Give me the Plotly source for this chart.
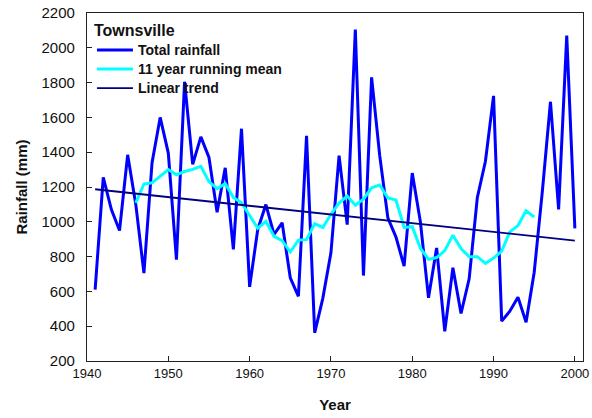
import pandas as pd
import plotly.graph_objects as go

# Annual rainfall at Townsville, 1941-2000 (mm)
years = list(range(1941, 2001))
rainfall = [
    610, 1255, 1070, 950, 1385, 1100, 705, 1340, 1600, 1395,
    783, 1805, 1330, 1488, 1370, 1055, 1310, 841, 1535, 626,
    956, 1099, 927, 994, 678, 572, 1494, 362, 560, 822,
    1380, 984, 2105, 691, 1830, 1380, 1023, 912, 745, 1280,
    1000, 563, 850, 371, 736, 473, 672, 1138, 1348, 1724,
    429, 486, 567, 423, 710, 1175, 1690, 1071, 2070, 962,
]

# Linear trend line end points (mm)
trend_years = [1941, 2000]
trend_values = [1187, 892]

x_ticks = [1940, 1950, 1960, 1970, 1980, 1990, 2000]
y_ticks = [200, 400, 600, 800, 1000, 1200, 1400, 1600, 1800, 2000, 2200]

series = pd.Series(rainfall, index=years, dtype=float)

# Centred 11-year running mean (defined from 1946 to 1995)
running = series.rolling(11, center=True).mean().dropna()

FONT = "Liberation Sans, Arial, Helvetica, sans-serif"


def legend_label(text):
    return f'<span style="font-size:14px"><b>{text}</b></span>'


fig = go.Figure()
fig.add_trace(go.Scatter(
    x=years, y=rainfall, mode="lines", name=legend_label("Total rainfall"),
    line=dict(color="#0000FF", width=3),
))
fig.add_trace(go.Scatter(
    x=list(running.index), y=list(running.values), mode="lines",
    name=legend_label("11 year running mean"),
    line=dict(color="#00FFFF", width=3),
))
fig.add_trace(go.Scatter(
    x=trend_years, y=trend_values, mode="lines", name=legend_label("Linear trend"),
    line=dict(color="#000080", width=1.8),
))

fig.update_layout(
    width=592, height=418,
    margin=dict(l=87, r=9, t=13, b=57),
    paper_bgcolor="white", plot_bgcolor="white",
    font=dict(family=FONT, size=14, color="#111111"),
    showlegend=True,
    legend=dict(
        x=0.010, y=0.995, xanchor="left", yanchor="top",
        bgcolor="rgba(0,0,0,0)",
        title=dict(text="<b>Townsville</b>", font=dict(size=16, color="#111111")),
        font=dict(size=11.5, color="#111111"),
        tracegroupgap=0, itemwidth=36,
    ),
    xaxis=dict(
        range=[1940, 2001], tickvals=x_ticks, automargin=False,
        showgrid=False, zeroline=False,
        showline=True, linecolor="#222222", linewidth=1.2, mirror=True,
        ticks="inside", ticklen=5, tickcolor="#222222", tickwidth=1.2,
        tickfont=dict(size=13),
        title=dict(text="<b>Year</b>", font=dict(size=15), standoff=19),
    ),
    yaxis=dict(
        range=[200, 2200], tickvals=y_ticks, automargin=False,
        showgrid=False, zeroline=False,
        showline=True, linecolor="#222222", linewidth=1.2, mirror=True,
        ticks="inside", ticklen=5, tickcolor="#222222", tickwidth=1.2,
        tickfont=dict(size=15),
        ticklabelstandoff=8,
        title=dict(text="<b>Rainfall (mm)</b>", font=dict(size=15), standoff=10),
    ),
)

fig.write_html("out.html")
